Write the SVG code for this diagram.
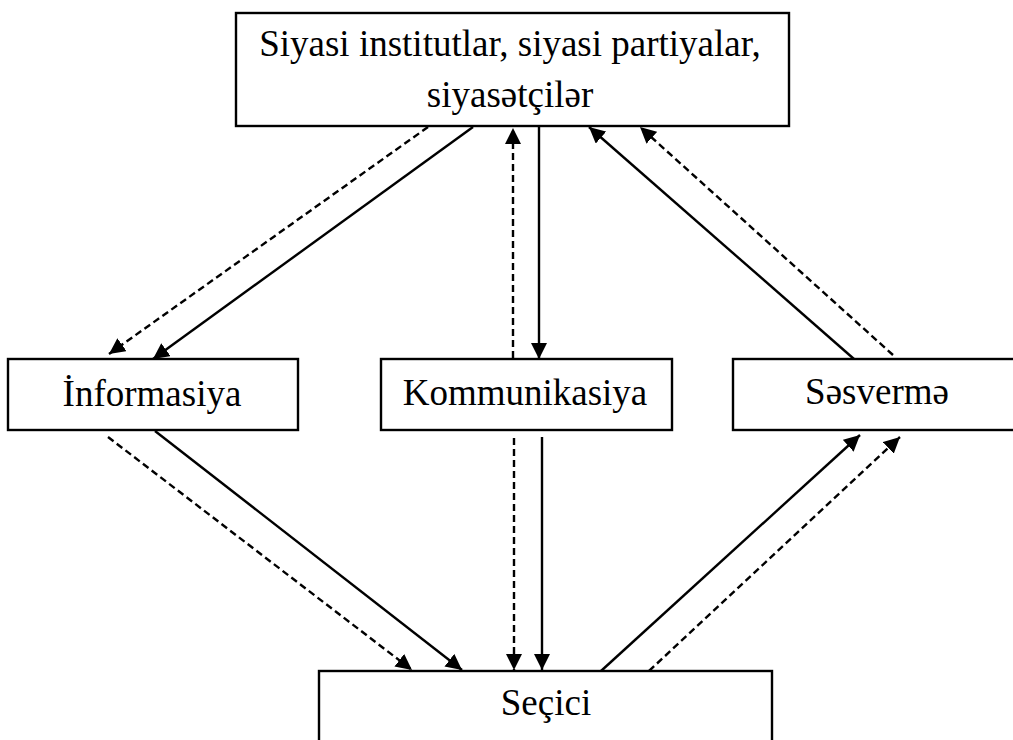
<svg xmlns="http://www.w3.org/2000/svg" width="1013" height="740" viewBox="0 0 1013 740">
<style>
.box{fill:#fff;stroke:#000;stroke-width:2.4}
.t{font-family:"Liberation Serif","Times New Roman",serif;font-size:37px;fill:#000;text-anchor:middle}
.ln{stroke:#000;stroke-width:2.4;fill:none}
.solid{marker-end:url(#ah)}
.dash{stroke-dasharray:7 4;marker-end:url(#ah)}
</style>
<defs>
<marker id="ah" markerUnits="userSpaceOnUse" markerWidth="17" markerHeight="16" refX="16" refY="8" orient="auto">
<path d="M0,0 L16,8 L0,16 Z" fill="#000" stroke="none"/>
</marker>
</defs>
<rect width="1013" height="740" fill="#fff"/>
<g id="top">
<rect class="box" x="236" y="13" width="553" height="113"/>
<text class="t" x="510" y="56">Siyasi institutlar, siyasi partiyalar,</text>
<text class="t" x="510" y="107">siyasətçilər</text>
</g>
<g id="informasiya">
<rect class="box" x="8" y="359" width="290" height="71"/>
<text class="t" x="152" y="406">İnformasiya</text>
</g>
<g id="kommunikasiya">
<rect class="box" x="381" y="359" width="291" height="71"/>
<text class="t" x="525" y="405">Kommunikasiya</text>
</g>
<g id="sesverme">
<rect class="box" x="733" y="359" width="290" height="71"/>
<text class="t" x="877" y="404">Səsvermə</text>
</g>
<g id="secici">
<rect class="box" x="319" y="671" width="453" height="90"/>
<text class="t" x="546" y="715">Seçici</text>
</g>
<g id="connectors">
<line class="ln dash" x1="428" y1="127" x2="109" y2="354"/>
<line class="ln solid" x1="473" y1="127" x2="153" y2="359"/>
<line class="ln dash" x1="513" y1="358" x2="513" y2="128"/>
<line class="ln solid" x1="539" y1="127" x2="539" y2="359"/>
<line class="ln solid" x1="854" y1="359" x2="589" y2="127"/>
<line class="ln dash" x1="893" y1="355" x2="640" y2="127"/>
<line class="ln dash" x1="108" y1="437" x2="412" y2="670"/>
<line class="ln solid" x1="155" y1="431" x2="462" y2="670"/>
<line class="ln dash" x1="514" y1="438" x2="514" y2="670"/>
<line class="ln solid" x1="542" y1="437" x2="542" y2="670"/>
<line class="ln solid" x1="601" y1="671" x2="860" y2="435"/>
<line class="ln dash" x1="649" y1="671" x2="900" y2="437"/>
</g>
</svg>
